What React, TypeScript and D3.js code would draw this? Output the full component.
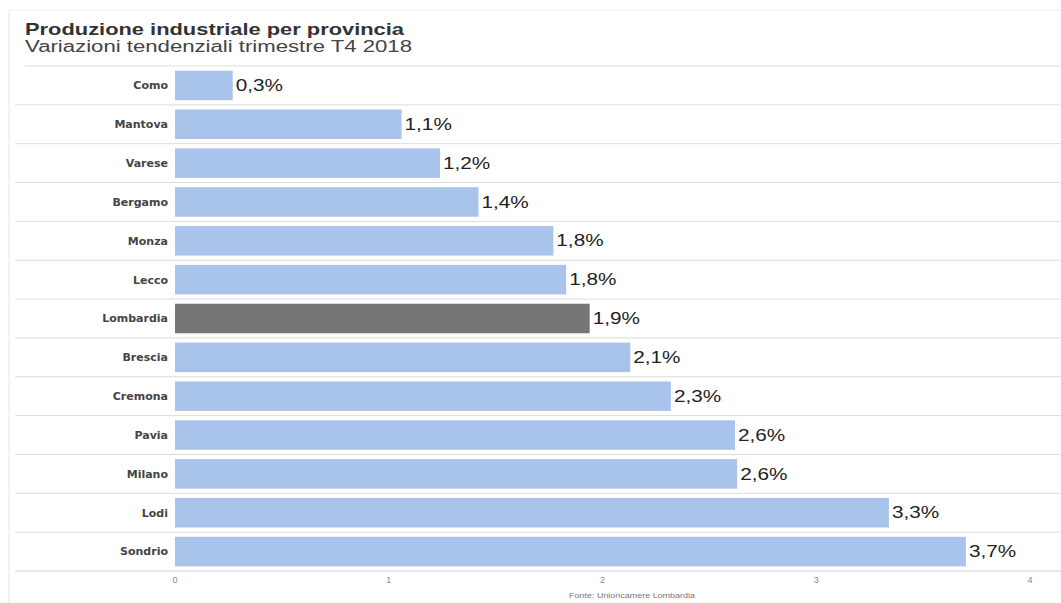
import React from "react";
import * as d3 from "d3";

const categories = ["Como", "Mantova", "Varese", "Bergamo", "Monza", "Lecco", "Lombardia", "Brescia", "Cremona", "Pavia", "Milano", "Lodi", "Sondrio"];
const values = [0.27, 1.06, 1.24, 1.42, 1.77, 1.83, 1.94, 2.13, 2.32, 2.62, 2.63, 3.34, 3.70];
const highlighted = ["Lombardia"];
const xTicks = [0, 1, 2, 3, 4];
const title = "Produzione industriale per provincia";
const subtitle = "Variazioni tendenziali trimestre T4 2018";
const source = "Fonte: Unioncamere Lombardia";

const W = 1061;
const H = 603;
const SANS = "Liberation Sans, Arial, sans-serif";

export default function App() {
  const x = d3.scaleLinear().domain([0, 4]).range([175, 1030]);
  const y = d3.scaleBand().domain(categories).range([66, 571]).paddingInner(0.24).paddingOuter(0.12);
  const step = y.step();
  const fmt = (v: number) => v.toFixed(1).replace(".", ",") + "%";
  const boundaries = d3.range(categories.length + 1).map((i) => 66 + i * step);

  return (
    <div style={{ position: "absolute", left: 0, top: 0 }}>
      <svg width={W} height={H} style={{ display: "block", background: "#fff" }}>
        <line x1={9} x2={9} y1={10} y2={H} stroke="#e6e6e6" />
        <line x1={9} x2={W} y1={10} y2={10} stroke="#eeeeee" />
        <text x={25} y={35} textLength={379} lengthAdjust="spacingAndGlyphs" fontFamily={SANS} fontWeight="bold" fontSize={17} fill="#333">{title}</text>
        <text x={25} y={52} textLength={387} lengthAdjust="spacingAndGlyphs" fontFamily={SANS} fontSize={16} fill="#444">{subtitle}</text>
        {boundaries.map((b, i) => (
          <line key={"g" + i} x1={i === 0 ? 25 : 15} x2={W} y1={b} y2={b} stroke={i === categories.length ? "#d0d0d0" : "#dcdcdc"} strokeWidth={1} />
        ))}
        {categories.map((c, i) => {
          const yy = y(c)!;
          const isH = highlighted.includes(c);
          const cy = yy + y.bandwidth() / 2;
          return (
            <g key={c}>
              <rect x={x(0)} y={yy} width={x(values[i]) - x(0)} height={y.bandwidth()} fill={isH ? "#767676" : "#a9c4ea"} />
              <text x={168} y={cy} dy="0.35em" textAnchor="end" fontFamily="DejaVu Sans, Verdana, sans-serif" fontWeight="bold" fontSize={11} fill="#444">{c}</text>
              <text transform={`translate(${x(values[i]) + 3},${cy}) scale(1.22,1)`} dy="0.33em" fontFamily={SANS} fontSize={17} fill="#222">{fmt(values[i])}</text>
            </g>
          );
        })}
        {xTicks.map((t) => (
          <text key={"t" + t} x={x(t)} y={583} textAnchor="middle" fontFamily={SANS} fontSize={9} fill="#888">{t}</text>
        ))}
        <text transform="translate(632,598) scale(1.12,1)" textAnchor="middle" fontFamily={SANS} fontSize={8} fill="#777">{source}</text>
      </svg>
    </div>
  );
}
